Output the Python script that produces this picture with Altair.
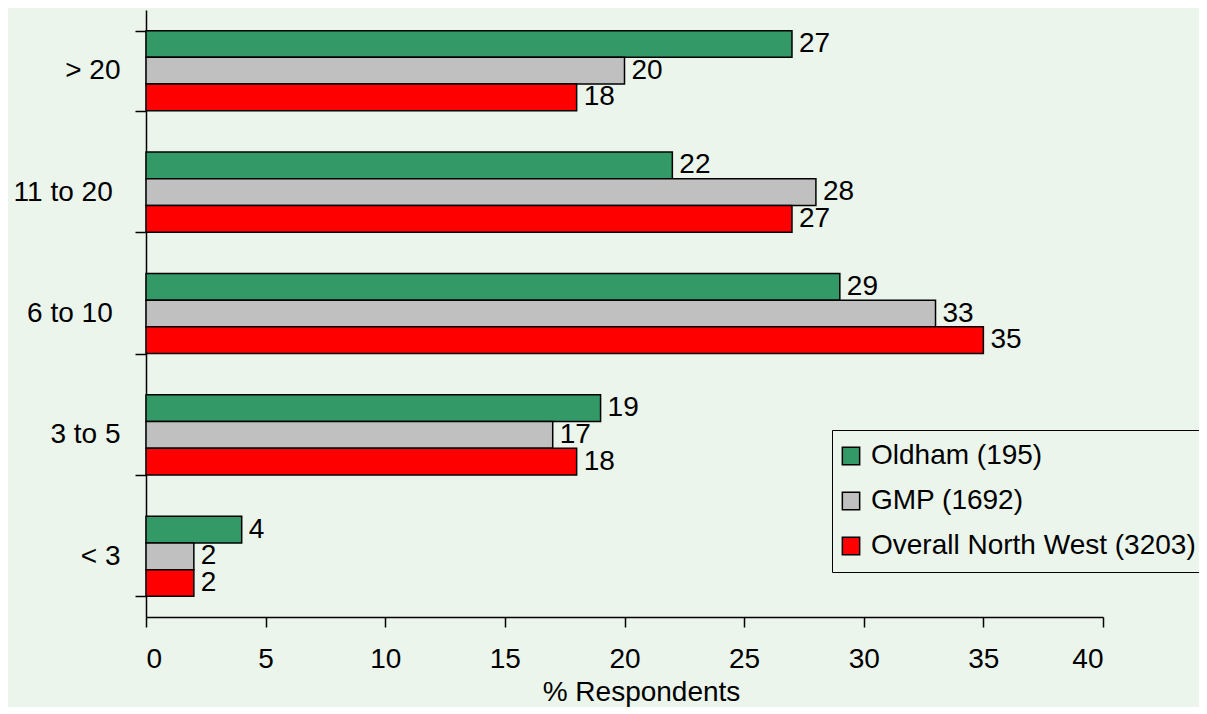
import altair as alt
import pandas as pd

categories = ["> 20", "11 to 20\u00a0\u200b", "6 to 10\u00a0\u200b", "3 to 5", "< 3"]
series = ["Oldham (195)", "GMP (1692)", "Overall North West (3203)"]
oldham = [27, 22, 29, 19, 4]
gmp = [20, 28, 33, 17, 2]
northwest = [18, 27, 35, 18, 2]
colors = ["#339966", "#C0C0C0", "#FF0000"]
x_ticks = [0, 5, 10, 15, 20, 25, 30, 35, 40]

rows = []
for s, vals in zip(series, [oldham, gmp, northwest]):
    for c, v in zip(categories, vals):
        rows.append({"cat": c, "series": s, "value": v})
df = pd.DataFrame(rows)

BG = "#EBF5EB"
FONT = "Liberation Sans"
FS = 28

y_enc = alt.Y("cat:N", sort=categories, title=None,
              scale=alt.Scale(paddingInner=0.34, paddingOuter=0.17),
              axis=alt.Axis(tickBand="extent", labelFontSize=FS, labelFont=FONT,
                            labelColor="black", labelPadding=15, tickSize=11,
                            tickColor="black", domainColor="black", tickWidth=1.5,
                            domainWidth=1.5))
x_enc = alt.X("value:Q", title="% Respondents",
              scale=alt.Scale(domain=[0, 40], nice=False),
              axis=alt.Axis(values=x_ticks, grid=False, labelFontSize=FS, labelFont=FONT,
                            labelColor="black", titleFontSize=FS, titleFont=FONT,
                            titleFontWeight="normal", titleColor="black",
                            tickSize=10, tickColor="black", domainColor="black",
                            tickWidth=1.5, domainWidth=1.5, labelPadding=18,
                            titleX=495, titleY=75, titleBaseline="middle",
                            titleAlign="center"))
yoff = alt.YOffset("series:N", sort=series, scale=alt.Scale(paddingInner=0, paddingOuter=0))

bars = alt.Chart(df).mark_bar(stroke="black", strokeWidth=1.5).encode(
    y=y_enc, x=x_enc, yOffset=yoff,
    color=alt.Color("series:N", sort=series,
                    scale=alt.Scale(domain=series, range=colors),
                    legend=alt.Legend(title=None, orient="none", legendX=686, legendY=420,
                                      symbolType="square", symbolSize=300,
                                      symbolStrokeColor="black", symbolStrokeWidth=1.5,
                                      symbolOffset=-7,
                                      labelFontSize=FS, labelFont=FONT, labelColor="black",
                                      labelLimit=600, rowPadding=17, padding=12,
                                      strokeColor="black", fillColor=BG,
                                      labelOffset=6)),
)

labels = alt.Chart(df).mark_text(align="left", baseline="middle", dx=7, fontSize=FS,
                                 font=FONT, color="black").encode(
    y=alt.Y("cat:N", sort=categories), x="value:Q", yOffset=yoff,
    text="value:Q",
)

chart = (bars + labels).properties(
    width=957, height=607,
    background=BG,
    autosize=alt.AutoSizeParams(type="none"),
    padding={"left": 138, "top": 2, "right": 96, "bottom": 90},
).configure_view(stroke=None)

chart.save("out.html", embed_options={"renderer": "svg", "actions": False})
